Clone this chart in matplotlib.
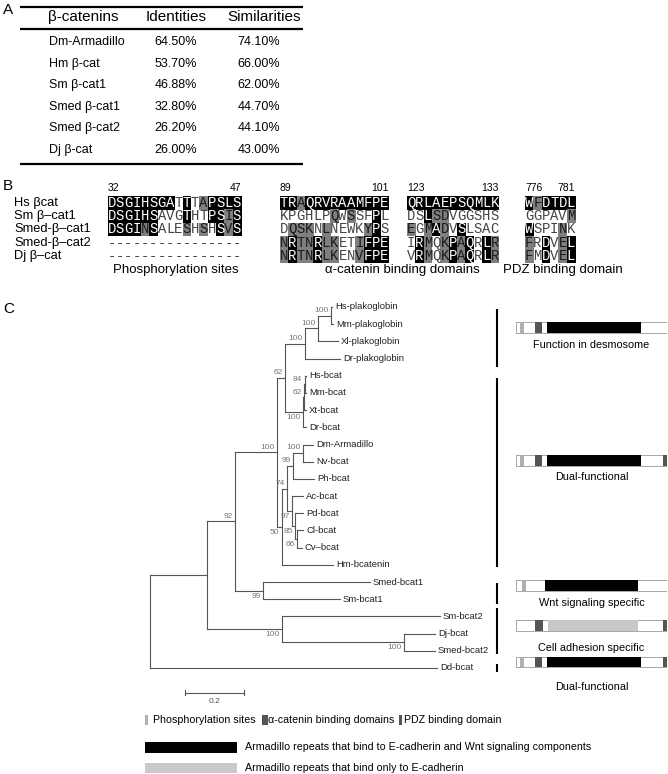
import matplotlib
matplotlib.use('Agg')
import matplotlib.pyplot as plt
from matplotlib.patches import Rectangle

plt.rcParams['font.family'] = ['Liberation Sans', 'DejaVu Sans']

W, H = 668, 774

# ---------------- A: identity table
cat_names = ['Dm-Armadillo', 'Hm β-cat', 'Sm β-cat1', 'Smed β-cat1', 'Smed β-cat2', 'Dj β-cat']
identities = [64.50, 53.70, 46.88, 32.80, 26.20, 26.00]
similarities = [74.10, 66.00, 62.00, 44.70, 44.10, 43.00]

# ---------------- B: alignments  (k = black, g = grey, . = none)
seq_names = ['Hs βcat', 'Sm β–cat1', 'Smed-β–cat1', 'Smed-β–cat2', 'Dj β–cat']
phos_seqs = ['DSGIHSGATTTAPSLS', 'DSGIHSAVGTHTPSIS', 'DSGINSALESHSHSVS',
             '----------------', '----------------']
phos_shade = ['kkkkkkkk.k.gkkkk', 'kkkkkk...k..kkgk', 'kkkkgk...g.g.kgk',
              '................', '................']
acat1_seqs = ['TRAQRVRAAMFPE', 'KPGHLPQWSSFPL', 'DQSKNLNEWKYPS',
              'NRTNRLKETIFPE', 'NRTNRLKENVFPE']
acat1_shade = ['kkgkkkkkkkkkk', '......g.g..k.', '.ggg.g....gk.',
               'gkggkgg..gkkk', 'gkggkgg..gkkk']
acat2_seqs = ['QRLAEPSQMLK', 'DSLSDVGGSHS', 'EGMADVSLSAC', 'IRMQKPAQRLR', 'VRMQKPAQRLR']
acat2_shade = ['kkkkkkkkkkk', '..kgg......', 'g.gkg.k....', '.kg.gkgk.kg', '.kg.gkgk.kg']
pdz_seqs = ['WFDTDL', 'GGPAVM', 'WSPINK', 'FRDVEL', 'FMDVEL']
pdz_shade = ['kgkkkk', '.....g', 'k...g.', 'g.k.gk', 'g.k.gk']
block_nums = [(32, 47), (89, 101), (123, 133), (776, 781)]
block_titles = ['Phosphorylation sites', 'α-catenin binding domains', 'PDZ binding domain']

# ---------------- C: tree (parent list, branch lengths, bootstrap)
tree_node = ['root', 'A', 'B', 'C', 'D', 'P1', 'P2', 'P3',
             'Hs-plakoglobin', 'Mm-plakoglobin', 'Xl-plakoglobin', 'Dr-plakoglobin',
             'V1', 'V2', 'V3', 'Hs-bcat', 'Mm-bcat', 'Xt-bcat', 'Dr-bcat',
             'E', 'F', 'G', 'DN', 'Dm-Armadillo', 'Nv-bcat', 'Ph-bcat',
             'H', 'Ac-bcat', 'I', 'Pd-bcat', 'J', 'Cl-bcat', 'Cv–bcat', 'Hm-bcatenin',
             'K', 'Smed-bcat1', 'Sm-bcat1', 'L', 'Sm-bcat2', 'M', 'Dj-bcat', 'Smed-bcat2',
             'Dd-bcat']
tree_parent = [None, 'root', 'A', 'B', 'C', 'D', 'P1', 'P2',
               'P3', 'P3', 'P2', 'P1',
               'D', 'V1', 'V2', 'V3', 'V3', 'V2', 'V1',
               'C', 'E', 'F', 'G', 'DN', 'DN', 'G',
               'F', 'H', 'H', 'I', 'I', 'J', 'J', 'E',
               'B', 'K', 'K', 'A', 'L', 'L', 'M', 'M',
               'root']
tree_length = [0, 0.193, 0.095, 0.143, 0.027, 0.067, 0.044, 0.045,
               0.003, 0.006, 0.068, 0.119,
               0.061, 0.003, 0.002, 0.005, 0.005, 0.007, 0.010,
               0.016, 0.017, 0.021, 0.034, 0.034, 0.034, 0.071,
               0.017, 0.038, 0.011, 0.027, 0.006, 0.021, 0.017, 0.173,
               0.095, 0.363, 0.261, 0.254, 0.536, 0.414, 0.105, 0.105,
               0.973]
tree_support = {'B': 92, 'C': 100, 'D': 62, 'P1': 100, 'P2': 100, 'P3': 100,
                'V1': 100, 'V2': 62, 'V3': 84, 'E': 50, 'F': 74, 'G': 99, 'DN': 100,
                'H': 97, 'I': 85, 'J': 66, 'K': 99, 'L': 100, 'M': 100}
support_below = ['V1', 'E', 'H', 'I', 'J', 'K', 'L', 'M']
scale_len = 0.2

# ---------------- C: domain diagrams (protein length = 100)
dom_labels = ['Function in desmosome', 'Dual-functional', 'Wnt signaling specific',
              'Cell adhesion specific', 'Dual-functional']
dom_phos = [(2.6, 5.3), (2.6, 5.3), (4.0, 6.6), None, (2.6, 5.3)]
dom_alpha = [(12.6, 17.2), (12.6, 17.2), None, (12.6, 17.9), (12.6, 17.2)]
dom_arm = [(20.5, 82.8), (20.5, 82.8), (19.2, 80.8), (21.2, 80.8), (20.5, 82.8)]
dom_arm_kind = ['wnt', 'wnt', 'wnt', 'cad', 'wnt']
dom_pdz = [None, (97.4, 100), None, (97.4, 100), (97.4, 100)]

c_phos, c_alpha, c_wnt, c_cad = '#b0b0b0', '#555555', '#000000', '#c8c8c8'

fig = plt.figure(figsize=(W / 100, H / 100), dpi=100)
ax = fig.add_axes([0, 0, 1, 1])
ax.set_xlim(0, W)
ax.set_ylim(H, 0)
ax.axis('off')

for lab, (x, y) in zip('ABC', [(3, 10), (3, 186), (3, 309)]):
    ax.text(x, y, lab, fontsize=11, va='center', ha='left')

# ---- A
for y in (7, 29, 164):
    ax.plot([20, 303], [y, y], color='black', lw=1.6, solid_capstyle='butt')
ax.text(48, 17, 'β-catenins', fontsize=11, va='center')
ax.text(176, 17, 'Identities', fontsize=11, va='center', ha='center')
ax.text(264, 17, 'Similarities', fontsize=11, va='center', ha='center')
for i, name in enumerate(cat_names):
    y = 42 + i * 21.6
    ax.text(49, y, name, fontsize=9, va='center')
    ax.text(176, y, f'{identities[i]:.2f}%', fontsize=9, ha='center', va='center')
    ax.text(259, y, f'{similarities[i]:.2f}%', fontsize=9, ha='center', va='center')

# ---- B
row0, pitch, cw = 202.7, 13.3, 8.35
for i, nm in enumerate(seq_names):
    ax.text(14, row0 + i * pitch, nm, fontsize=9.3, va='center')

fill = {'k': '#000000', 'g': '#7f7f7f'}
tcol = {'k': 'white', 'g': '#1a1a1a', '.': '#444444'}
blocks = [(phos_seqs, phos_shade, 107.5), (acat1_seqs, acat1_shade, 280),
          (acat2_seqs, acat2_shade, 407), (pdz_seqs, pdz_shade, 525)]
for (seqs, shade, x0), (n0, n1) in zip(blocks, block_nums):
    ncol = len(seqs[0])
    ax.text(x0, 188, str(n0), fontsize=7.5, va='center', ha='left')
    ax.text(x0 + ncol * cw, 188, str(n1), fontsize=7.5, va='center', ha='right')
    for r, (s, sh) in enumerate(zip(seqs, shade)):
        y = row0 + r * pitch
        for c, (ch, code) in enumerate(zip(s, sh)):
            x = x0 + c * cw
            if code in fill:
                ax.add_patch(Rectangle((x, y - pitch / 2), cw + 0.4, pitch + 0.4,
                                       facecolor=fill[code], lw=0))
            ax.text(x + cw / 2, y, ch, family=['Liberation Mono', 'DejaVu Sans Mono'],
                    fontsize=10, ha='center', va='center', color=tcol[code])
for title, xc in zip(block_titles, [176, 402, 563]):
    ax.text(xc, 270, title, fontsize=9.5, ha='center', va='center')

# ---- C tree
leaf0, step = 307, 17.19
tx = fig.add_axes([150 / W, 1 - (leaf0 + 21.5 * step) / H, 295 / W, 22 * step / H])
tx.set_xlim(0, 1.0)
tx.set_ylim(21.5, -0.5)
tx.axis('off')

children = {n: [] for n in tree_node}
for n, p in zip(tree_node, tree_parent):
    if p is not None:
        children[p].append(n)
plen = dict(zip(tree_node, tree_length))
par = dict(zip(tree_node, tree_parent))
nx, ny = {}, {}
leaf_count = [0]


def place(n, x):
    nx[n] = x + plen[n]
    if children[n]:
        for ch in children[n]:
            place(ch, nx[n])
        ny[n] = (ny[children[n][0]] + ny[children[n][-1]]) / 2
    else:
        ny[n] = leaf_count[0]
        leaf_count[0] += 1


place('root', 0)
lc = '#555555'
for n in tree_node:
    if par[n] is not None:
        tx.plot([nx[par[n]], nx[n]], [ny[n], ny[n]], color=lc, lw=0.8, clip_on=False)
    if children[n]:
        tx.plot([nx[n], nx[n]], [ny[children[n][0]], ny[children[n][-1]]],
                color=lc, lw=0.8, clip_on=False)
    else:
        tx.text(nx[n] + 0.01, ny[n], n, fontsize=6.8, va='center', ha='left', color='#222222')
    if n in tree_support:
        if n in support_below:
            tx.text(nx[n] - 0.008, ny[n] + 0.12, str(tree_support[n]), fontsize=6,
                    color='#777777', ha='right', va='top')
        else:
            tx.text(nx[n] - 0.008, ny[n] - 0.1, str(tree_support[n]), fontsize=6,
                    color='#777777', ha='right', va='bottom')

# scale bar
sb_x, sb_y = 0.119, 22.45
tx.plot([sb_x, sb_x + scale_len], [sb_y, sb_y], color=lc, lw=0.8, clip_on=False)
for xe in (sb_x, sb_x + scale_len):
    tx.plot([xe, xe], [sb_y - 0.15, sb_y + 0.15], color=lc, lw=0.8, clip_on=False)
tx.text(sb_x + scale_len / 2, sb_y + 0.3, str(scale_len), fontsize=6, color='#555555',
        ha='center', va='top')

# clade brackets
for y1, y2 in [(309, 367), (378, 567), (583, 604), (608, 654), (664, 672)]:
    ax.plot([497, 497], [y1, y2], color='black', lw=1.5, solid_capstyle='butt')

# ---- domain diagrams
dx = fig.add_axes([516 / W, 0, 151 / W, 1])
dx.set_xlim(0, 100)
dx.set_ylim(H, 0)
dx.axis('off')
dom_y = [(322, 333), (455, 466), (580, 591), (620, 631), (657, 667)]
text_y = [345, 477, 603, 648, 687]
for i, (y0, y1) in enumerate(dom_y):
    h = y1 - y0
    dx.add_patch(Rectangle((0, y0), 100, h, facecolor='white', edgecolor='#999999', lw=0.6))
    for seg, col in [(dom_phos[i], c_phos), (dom_alpha[i], c_alpha), (dom_pdz[i], c_alpha),
                     (dom_arm[i], c_wnt if dom_arm_kind[i] == 'wnt' else c_cad)]:
        if seg is not None:
            dx.add_patch(Rectangle((seg[0], y0), seg[1] - seg[0], h, facecolor=col, lw=0))
    dx.text(50, text_y[i], dom_labels[i], fontsize=7.8, ha='center', va='center')

# ---- legend
ax.add_patch(Rectangle((145, 715), 3, 10, facecolor=c_phos, lw=0))
ax.text(153, 720, 'Phosphorylation sites', fontsize=7.7, va='center')
ax.add_patch(Rectangle((262, 715), 6, 10, facecolor=c_alpha, lw=0))
ax.text(268.5, 720, 'α-catenin binding domains', fontsize=7.7, va='center')
ax.add_patch(Rectangle((399, 715), 3, 10, facecolor=c_alpha, lw=0))
ax.text(404, 720, 'PDZ binding domain', fontsize=7.7, va='center')
ax.add_patch(Rectangle((145, 742), 92, 11, facecolor=c_wnt, lw=0))
ax.text(245, 747.5, 'Armadillo repeats that bind to E-cadherin and Wnt signaling components',
        fontsize=7.7, va='center')
ax.add_patch(Rectangle((145, 763), 92, 10, facecolor=c_cad, lw=0))
ax.text(245, 768, 'Armadillo repeats that bind only to E-cadherin', fontsize=7.7, va='center')

fig.savefig('out.png', dpi=100)
